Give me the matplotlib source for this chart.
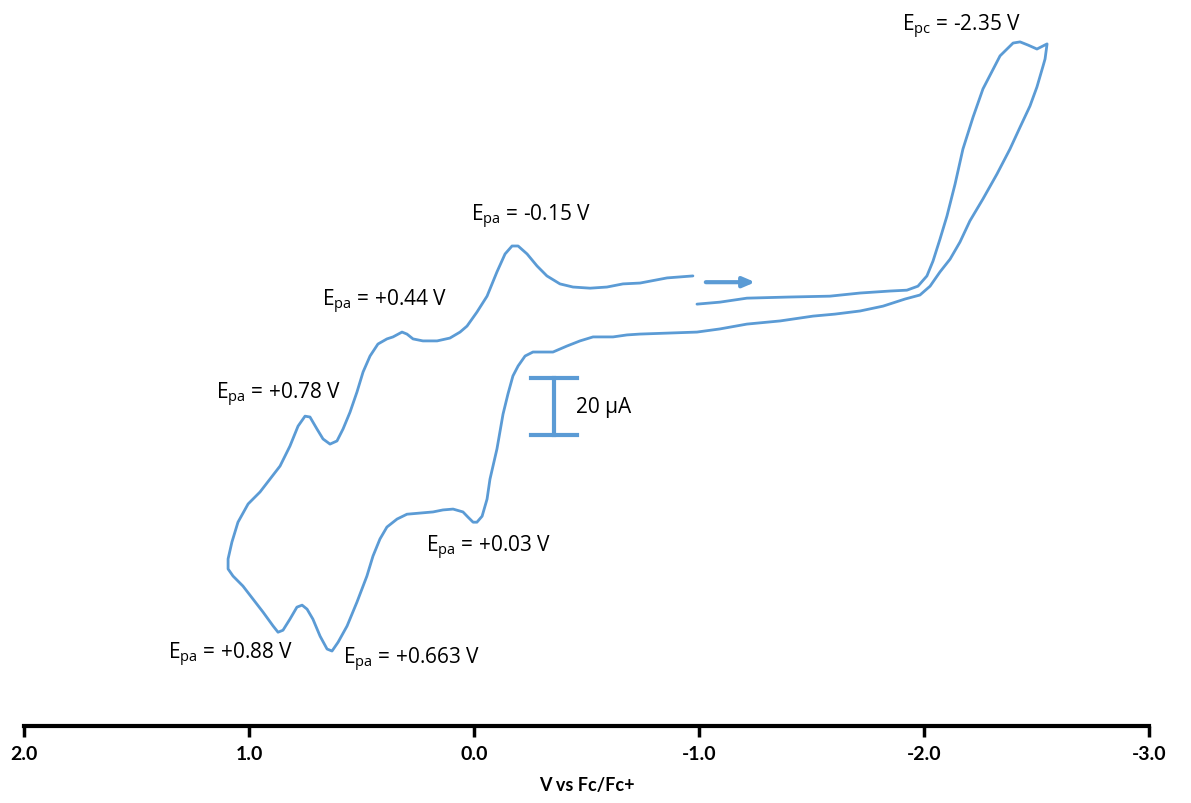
import matplotlib.pyplot as plt
from matplotlib import rcParams

rcParams['mathtext.fontset'] = 'custom'
rcParams['mathtext.rm'] = 'Open Sans'
rcParams['mathtext.it'] = 'Open Sans:italic'

CURVE_COLOR = '#5B9BD5'

# potential (V vs Fc/Fc+) and current (uA), scan starts near -1.0 V going negative
potential = [
    # forward scan to -2.55 V
    -0.991, -1.093, -1.213, -1.404, -1.582, -1.716, -1.849, -1.924, -1.973, -2.013,
    -2.040, -2.071, -2.102, -2.138, -2.173, -2.218, -2.262, -2.338, -2.396, -2.427,
    -2.462, -2.502, -2.529, -2.547,
    # reverse scan to +1.1 V
    -2.538, -2.529, -2.502, -2.471, -2.427, -2.382, -2.324, -2.262, -2.204, -2.160,
    -2.116, -2.071, -2.027, -1.982, -1.916, -1.818, -1.716, -1.604, -1.507, -1.360,
    -1.213, -1.093, -0.991, -0.738, -0.680, -0.618, -0.529, -0.471, -0.413, -0.351,
    -0.262, -0.227, -0.196, -0.173, -0.151, -0.129, -0.102, -0.071, -0.058, -0.036,
    -0.013, 0.004, 0.027, 0.049, 0.093, 0.138, 0.182, 0.240, 0.298, 0.342,
    0.387, 0.418, 0.449, 0.476, 0.520, 0.564, 0.604, 0.631, 0.653, 0.684,
    0.716, 0.742, 0.764, 0.787, 0.818, 0.849, 0.871, 0.893, 0.938, 0.982,
    1.027, 1.071, 1.093,
    # back towards the starting potential
    1.093, 1.076, 1.049, 1.004, 0.951, 0.907, 0.862, 0.818, 0.782, 0.751,
    0.729, 0.698, 0.671, 0.640, 0.609, 0.582, 0.551, 0.520, 0.493, 0.462,
    0.427, 0.387, 0.360, 0.320, 0.298, 0.271, 0.227, 0.164, 0.107, 0.062,
    0.031, -0.013, -0.058, -0.102, -0.138, -0.169, -0.196, -0.236, -0.280, -0.324,
    -0.382, -0.440, -0.516, -0.591, -0.662, -0.738, -0.858, -0.973,
]
current = [
    33.3, 34.0, 35.4, 35.8, 36.1, 37.2, 37.9, 38.2, 39.6, 43.2,
    48.4, 56.1, 64.2, 75.4, 87.7, 98.9, 108.8, 120.4, 124.9, 125.3,
    124.2, 122.8, 123.9, 124.6,
    119.3, 116.8, 109.5, 102.8, 95.4, 87.7, 78.9, 70.2, 62.5, 55.1,
    49.1, 44.6, 39.6, 36.5, 35.1, 32.6, 30.9, 29.8, 29.1, 27.4,
    26.3, 24.6, 23.5, 22.8, 22.5, 21.8, 21.8, 20.4, 18.6, 16.5,
    16.5, 15.1, 11.6, 8.1, 1.8, -5.3, -17.5, -28.1, -35.1, -41.1,
    -43.2, -43.2, -41.4, -39.6, -38.6, -38.9, -39.6, -40.0, -40.4, -42.1,
    -44.9, -49.1, -55.1, -62.1, -71.2, -79.6, -85.3, -88.4, -87.7, -83.2,
    -77.2, -73.7, -72.3, -73.0, -77.2, -81.1, -81.8, -79.6, -74.7, -70.2,
    -65.6, -62.1, -59.6,
    -56.1, -50.2, -43.2, -36.8, -32.6, -28.1, -23.5, -16.5, -9.5, -6.0,
    -6.3, -10.5, -14.0, -15.8, -14.7, -10.5, -4.6, 2.5, 9.5, 15.1,
    19.3, 21.1, 21.8, 23.5, 22.8, 21.1, 20.4, 20.4, 21.4, 23.5,
    25.6, 30.5, 36.1, 44.6, 50.9, 53.7, 53.7, 50.9, 46.7, 43.2,
    40.4, 39.3, 38.9, 39.3, 40.4, 40.7, 42.5, 43.2,
]

# peak labels: (text, x, y) in data units, left-aligned
peak_labels = [
    (r'E$_{\mathrm{pc}}$ = -2.35 V', -1.902, 131.0),
    (r'E$_{\mathrm{pa}}$ = -0.15 V', 0.013, 64.2),
    (r'E$_{\mathrm{pa}}$ = +0.44 V', 0.676, 34.4),
    (r'E$_{\mathrm{pa}}$ = +0.78 V', 1.147, 1.8),
    (r'E$_{\mathrm{pa}}$ = +0.03 V', 0.213, -51.9),
    (r'E$_{\mathrm{pa}}$ = +0.88 V', 1.360, -89.5),
    (r'E$_{\mathrm{pa}}$ = +0.663 V', 0.582, -91.2),
]

scale_bar_ua = 20
scale_bar_x = -0.356
scale_bar_bottom = -12.6

fig = plt.figure(figsize=(11.91, 8.04), dpi=100)
ax = fig.add_axes([24 / 1191, 77 / 804, 1125 / 1191, 727 / 804])

ax.plot(potential, current, color=CURVE_COLOR, lw=2.0,
        solid_joinstyle='round', solid_capstyle='round')

# scan direction arrow
ax.annotate('', xy=(-1.262, 41.0), xytext=(-1.018, 41.0),
            arrowprops=dict(arrowstyle='-|>,head_length=0.7,head_width=0.3',
                            color=CURVE_COLOR, lw=3))

# 20 uA scale bar
top = scale_bar_bottom + scale_bar_ua
ax.plot([scale_bar_x, scale_bar_x], [scale_bar_bottom, top], color=CURVE_COLOR, lw=3)
for yy in (scale_bar_bottom, top):
    ax.plot([scale_bar_x + 0.102, scale_bar_x - 0.102], [yy, yy], color=CURVE_COLOR, lw=3)
ax.text(-0.453, -2.6, '20 µA', fontsize=15, family='Open Sans', va='center', ha='left')

for txt, x, y in peak_labels:
    ax.text(x, y, txt, fontsize=15, family='Open Sans', va='center', ha='left')

ax.set_xlim(2.0, -3.0)
ax.set_ylim(-114.7, 140.35)
ax.set_xticks([2.0, 1.0, 0.0, -1.0, -2.0, -3.0])
ax.set_xticklabels(['2.0', '1.0', '0.0', '-1.0', '-2.0', '-3.0'],
                   fontsize=14, fontweight='bold', family='Lato')
ax.tick_params(axis='x', direction='out', length=8, width=2.5, pad=6)
ax.set_yticks([])
for side in ('top', 'left', 'right'):
    ax.spines[side].set_visible(False)
ax.spines['bottom'].set_linewidth(3)
ax.set_xlabel('V vs Fc/Fc+', fontsize=13, fontweight='bold', family='Lato', labelpad=10)

fig.savefig('out.png', dpi=100)
